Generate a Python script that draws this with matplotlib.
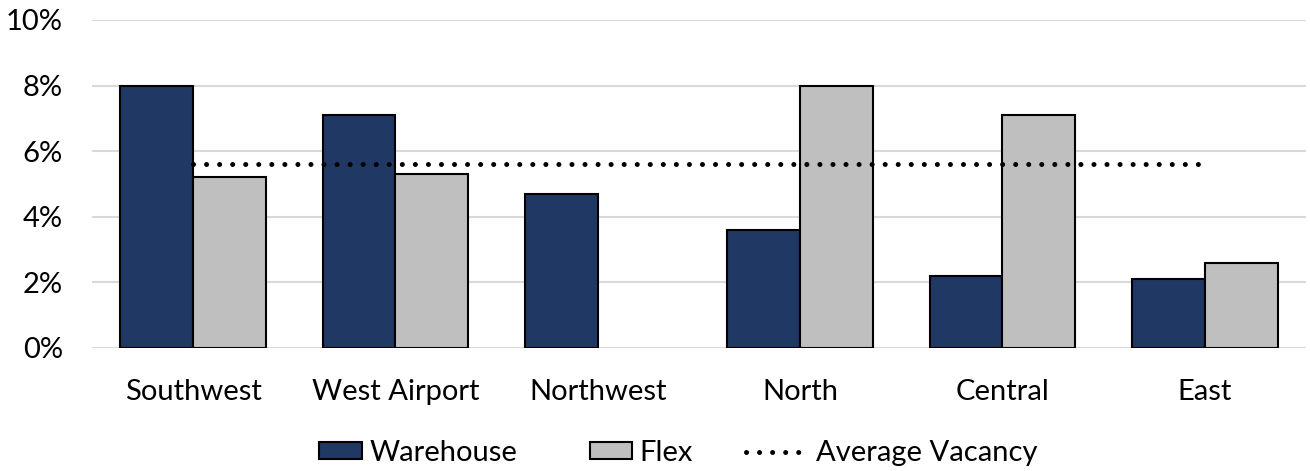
import matplotlib
matplotlib.use("Agg")
import matplotlib.pyplot as plt
from matplotlib.ticker import PercentFormatter
from matplotlib.legend_handler import HandlerPatch, update_from_first_child
from matplotlib.container import BarContainer
from matplotlib.patches import Rectangle
import numpy as np

# vacancy rate by submarket (%)
submarkets = ["Southwest", "West Airport", "Northwest", "North", "Central", "East"]
warehouse = [8.0, 7.1, 4.7, 3.6, 2.2, 2.1]
flex = [5.2, 5.3, 0.0, 8.0, 7.1, 2.6]
average_vacancy = 5.6

navy = "#203864"
grey = "#BFBFBF"
fs = 21

plt.rcParams["font.family"] = ["Lato", "DejaVu Sans"]

fig = plt.figure(figsize=(13.1, 4.71), dpi=100)
ax = fig.add_axes([92 / 1310, 1 - 348 / 471, 1214 / 1310, 328 / 471])

x = np.arange(len(submarkets))
w = 0.36
wh_bars = ax.bar(x - w / 2, warehouse, w, color=navy, edgecolor="black", linewidth=1.5,
                 label="Warehouse", zorder=2)
fx_bars = ax.bar(x + w / 2, flex, w, color=grey, edgecolor="black", linewidth=1.5,
                 label="Flex", zorder=2)
# no outline for empty bars
for b in list(wh_bars) + list(fx_bars):
    if b.get_height() == 0:
        b.set_linewidth(0)

ax.plot([x[0], x[-1]], [average_vacancy] * 2, color="black", linestyle=(0, (0.01, 2.6)),
        linewidth=3.6, dash_capstyle="round", label="Average Vacancy", zorder=3)

ax.set_xlim(-0.5, len(submarkets) - 0.5)
ax.set_ylim(0, 10)
ax.set_yticks(np.arange(0, 11, 2))
ax.yaxis.set_major_formatter(PercentFormatter(decimals=0))
ax.set_xticks(x)
ax.set_xticklabels(submarkets)
ax.grid(axis="y", color="#D9D9D9", linewidth=1.5, zorder=0)
ax.set_axisbelow(True)
for s in ax.spines.values():
    s.set_visible(False)
ax.tick_params(length=0, labelsize=fs, colors="black")
ax.tick_params(axis="y", pad=21)
ax.tick_params(axis="x", pad=22)


# shorter boxes for the bar entries, sitting next to their text
def short_box(legend, orig_handle, xdescent, ydescent, width, height, fontsize):
    return Rectangle((-xdescent + width * 0.32, -ydescent), width * 0.68, height)


handles, labels = ax.get_legend_handles_labels()
order = [labels.index(n) for n in ["Warehouse", "Flex", "Average Vacancy"]]
fig.legend([handles[i] for i in order], [labels[i] for i in order],
           loc="lower center", bbox_to_anchor=(0.51, -0.045), ncol=3, frameon=False,
           fontsize=fs, handlelength=2.16, handleheight=0.52, columnspacing=1.8,
           handletextpad=0.25,
           handler_map={BarContainer: HandlerPatch(patch_func=short_box,
                                                   update_func=update_from_first_child)})

fig.savefig("out.png", dpi=100)
